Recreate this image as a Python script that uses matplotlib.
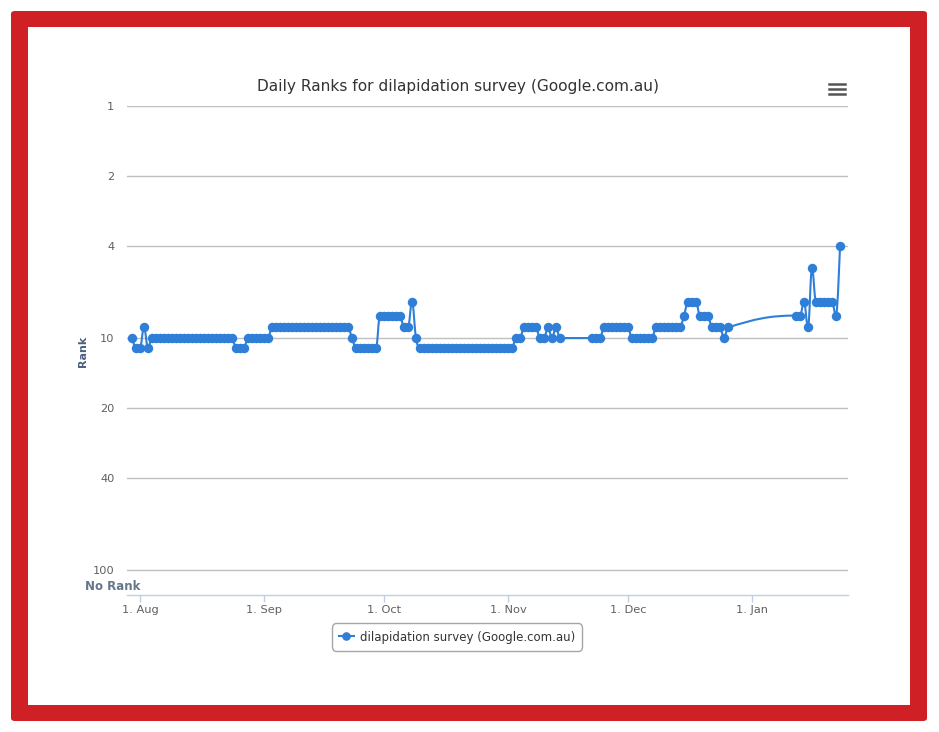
import numpy as np
import pandas as pd
import matplotlib
matplotlib.use("Agg")
from matplotlib import pyplot as plt
from matplotlib import dates as mdates
from matplotlib.path import Path
from matplotlib.patches import PathPatch, Rectangle, FancyBboxPatch
from matplotlib.lines import Line2D
from matplotlib.ticker import FuncFormatter, FixedLocator, NullLocator

# daily rank from 30 Jul, one entry per day, None = no data that day
start_day = "2016-07-30"
ranks = [
    10, 11,                                                    # Jul 30-31
    11, 9, 11, 10, 10, 10, 10, 10, 10, 10, 10, 10, 10, 10, 10, 10,
    10, 10, 10, 10, 10, 10, 10, 10, 11, 11, 11, 10, 10, 10, 10,  # Aug
    10, 10, 9, 9, 9, 9, 9, 9, 9, 9, 9, 9, 9, 9, 9, 9, 9, 9, 9, 9,
    9, 9, 10, 11, 11, 11, 11, 11, 11, 8,                       # Sep
    8, 8, 8, 8, 8, 9, 9, 7, 10, 11, 11, 11, 11, 11, 11, 11, 11,
    11, 11, 11, 11, 11, 11, 11, 11, 11, 11, 11, 11, 11, 11,    # Oct
    11, 11, 10, 10, 9, 9, 9, 9, 10, 10, 9, 10, 9, 10,
    None, None, None, None, None, None, None,
    10, 10, 10, 9, 9, 9, 9, 9, 9,                              # Nov
    9, 10, 10, 10, 10, 10, 10, 9, 9, 9, 9, 9, 9, 9, 8, 7, 7, 7,
    8, 8, 8, 9, 9, 9, 10, 9, None, None, None, None, None,     # Dec
    None, None, None, None, None, None, None, None, None, None, None,
    8, 8, 7, 9, 5, 7, 7, 7, 7, 7, 8, 4,                        # Jan 1-23
]
y_ticks = [1, 2, 4, 10, 20, 40, 100]
series_name = "dilapidation survey (Google.com.au)"
title = "Daily Ranks for dilapidation survey (Google.com.au)"

all_days = pd.date_range(start_day, periods=len(ranks), freq="D")
df = pd.DataFrame({"date": all_days, "rank": ranks}).dropna()
xs = mdates.date2num(df["date"].to_numpy())
ys = df["rank"].to_numpy(dtype=float)

W, H = 939, 732
blue = "#2f7ed8"
label_col = "#606060"

fig = plt.figure(figsize=(W / 100, H / 100), dpi=100)
fig.patch.set_facecolor("white")

def fx(px):
    return px / W

def fy(py):
    return 1 - py / H

# red frame
fig.patches.append(FancyBboxPatch((fx(11), fy(721)), fx(916) , 710 / H,
                                  boxstyle="round,pad=0,rounding_size=0.004",
                                  transform=fig.transFigure, facecolor="#cf2026",
                                  edgecolor="none", zorder=-10))
fig.patches.append(Rectangle((fx(28), fy(705)), fx(882), 678 / H,
                             transform=fig.transFigure, facecolor="white",
                             edgecolor="none", zorder=-9))

ax = fig.add_axes([fx(127), fy(595), fx(848 - 127), (595 - 106) / H])
ax.set_facecolor("none")

# spline like the web chart: control points in (x, log y) space
lx, ly = xs, np.log10(ys)
n = len(lx)
left_c = [(lx[i], ly[i]) for i in range(n)]
right_c = [(lx[i], ly[i]) for i in range(n)]
sm, den = 1.5, 2.5
for i in range(1, n - 1):
    px, py = lx[i], ly[i]
    lX = (sm * px + lx[i - 1]) / den
    lY = (sm * py + ly[i - 1]) / den
    rX = (sm * px + lx[i + 1]) / den
    rY = (sm * py + ly[i + 1]) / den
    if rX != lX:
        corr = (rY - lY) * (rX - px) / (rX - lX) + py - rY
        lY += corr
        rY += corr
    if lY > ly[i - 1] and lY > py:
        lY = max(ly[i - 1], py)
        rY = 2 * py - lY
    elif lY < ly[i - 1] and lY < py:
        lY = min(ly[i - 1], py)
        rY = 2 * py - lY
    if rY > ly[i + 1] and rY > py:
        rY = max(ly[i + 1], py)
        lY = 2 * py - rY
    elif rY < ly[i + 1] and rY < py:
        rY = min(ly[i + 1], py)
        lY = 2 * py - rY
    left_c[i] = (lX, lY)
    right_c[i] = (rX, rY)

verts = [(lx[0], ly[0])]
codes = [Path.MOVETO]
for i in range(1, n):
    verts += [right_c[i - 1], left_c[i], (lx[i], ly[i])]
    codes += [Path.CURVE4] * 3
verts = [(vx, 10 ** vy) for vx, vy in verts]
ax.add_patch(PathPatch(Path(verts, codes), facecolor="none", edgecolor=blue,
                       lw=1.5, zorder=3, capstyle="round", joinstyle="round"))
ax.plot(xs, ys, ls="none", marker="o", ms=6.8, color=blue, mew=0, zorder=4)

ax.set_yscale("log")
ax.set_ylim(128, 1)
ax.yaxis.set_major_locator(FixedLocator(y_ticks))
ax.yaxis.set_minor_locator(NullLocator())
ax.yaxis.set_major_formatter(FuncFormatter(lambda v, p: "%d" % v))
ax.grid(axis="y", color="#c0c0c0", lw=1.0)
ax.tick_params(axis="y", length=0, pad=9, labelsize=8.2, labelcolor=label_col)

x0 = mdates.date2num(pd.Timestamp(start_day))
ax.set_xlim(x0 - 1.25, x0 + 179)
ax.xaxis.set_major_locator(mdates.MonthLocator())
ax.xaxis.set_major_formatter(FuncFormatter(
    lambda v, p: "1. " + mdates.num2date(v).strftime("%b")))
ax.tick_params(axis="x", length=5, width=1, color="#c0d0e0", pad=2,
               labelsize=8.2, labelcolor=label_col)
for s in ["top", "right", "left"]:
    ax.spines[s].set_visible(False)
ax.spines["bottom"].set_color("#c0d0e0")
ax.spines["bottom"].set_linewidth(1)
ax.set_axisbelow(True)

fig.text(fx(458), fy(86), title, ha="center", va="center", fontsize=11.1,
         color="#333333")
fig.text(fx(83), fy(351), "Rank", rotation=90, ha="center", va="center",
         fontsize=8, fontweight="bold", color="#4d6080")
fig.text(fx(85), fy(587), "No Rank", ha="left", va="center", fontsize=8.5,
         fontweight="bold", color="#66758c")

# menu icon
for yy in [83.5, 88.5, 93.5]:
    fig.lines.append(Line2D([fx(829), fx(845)], [fy(yy), fy(yy)], lw=1.8,
                            color="#555555", transform=fig.transFigure))

handle = Line2D([], [], color=blue, lw=1.5, marker="o", ms=6.2, mew=0)
leg = fig.legend([handle], [series_name], loc="center",
                 bbox_to_anchor=(fx(457), fy(637)), fontsize=8.5, frameon=True,
                 fancybox=True, edgecolor="#909090", handlelength=1.3,
                 handletextpad=0.5, borderpad=0.6, labelcolor="#333333")
leg.get_frame().set_linewidth(1)
leg.get_frame().set_boxstyle("round,pad=0,rounding_size=0.4")

fig.savefig("out.png", dpi=100)
